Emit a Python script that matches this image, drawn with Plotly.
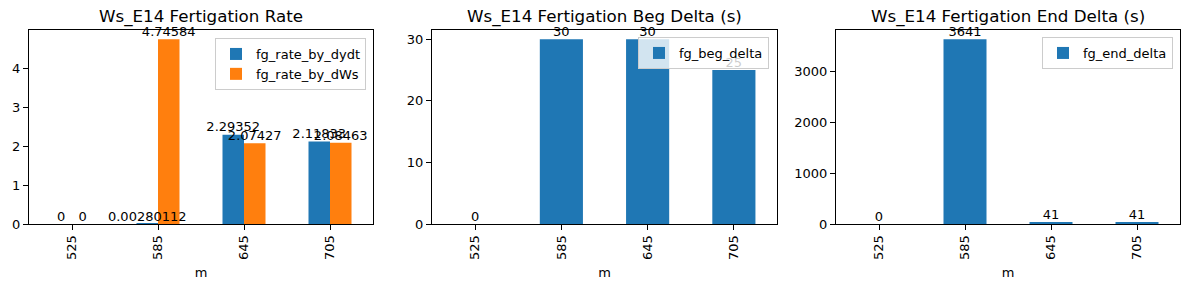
import plotly.graph_objects as go

categories = ["525", "585", "645", "705"]
fg_rate_by_dydt = [0, 0.00280112, 2.29352, 2.11833]
fg_rate_by_dWs = [0, 4.74584, 2.07427, 2.08463]
fg_beg_delta = [0, 30, 30, 25]
fg_end_delta = [0, 3641, 41, 41]

dydt_labels = ["0", "0.00280112", "2.29352", "2.11833"]
dWs_labels = ["0", "4.74584", "2.07427", "2.08463"]
beg_labels = ["0", "30", "30", "25"]
end_labels = ["0", "3641", "41", "41"]

titles = ["Ws_E14 Fertigation Rate", "Ws_E14 Fertigation Beg Delta (s)", "Ws_E14 Fertigation End Delta (s)"]

BLUE = "#1f77b4"
ORANGE = "#ff7f0e"
FONT = "DejaVu Sans"
W, H = 1189, 290

fig = go.Figure()

def bar(name, y, color, xa, ya, legend, grp):
    return go.Bar(
        x=categories, y=y, name=name, marker=dict(color=color, line=dict(width=0)),
        xaxis=xa, yaxis=ya, legend=legend, offsetgroup=grp, alignmentgroup=xa,
    )

def labels(y, text, xa, ya, grp):
    return go.Scatter(
        x=categories, y=y, text=text, mode="text", textposition="top center",
        textfont=dict(size=13, color="black", family=FONT), cliponaxis=False,
        xaxis=xa, yaxis=ya, showlegend=False, hoverinfo="skip",
        offsetgroup=grp, alignmentgroup=xa,
    )

fig.add_trace(bar("fg_rate_by_dydt", fg_rate_by_dydt, BLUE, "x", "y", "legend", "a"))
fig.add_trace(bar("fg_rate_by_dWs", fg_rate_by_dWs, ORANGE, "x", "y", "legend", "b"))
fig.add_trace(bar("fg_beg_delta", fg_beg_delta, BLUE, "x2", "y2", "legend2", "a"))
fig.add_trace(bar("fg_end_delta", fg_end_delta, BLUE, "x3", "y3", "legend3", "a"))
fig.add_trace(labels(fg_rate_by_dydt, dydt_labels, "x", "y", "a"))
fig.add_trace(labels(fg_rate_by_dWs, dWs_labels, "x", "y", "b"))
fig.add_trace(labels(fg_beg_delta, beg_labels, "x2", "y2", "a"))
fig.add_trace(labels(fg_end_delta, end_labels, "x3", "y3", "a"))

xdoms = [(29, 373), (432, 777), (836, 1180)]
ytop, ybot = 30, 224
ydom = [1 - ybot / H, 1 - ytop / H]
yranges = [[0, max(fg_rate_by_dWs) * 1.05], [0, max(fg_beg_delta) * 1.05], [0, max(fg_end_delta) * 1.05]]
dticks = [1, 10, 1000]

axis_common = dict(
    showline=True, mirror=True, linecolor="black", linewidth=1,
    ticks="outside", ticklen=5, tickcolor="black", tickwidth=1,
    showgrid=False, zeroline=False, automargin=False,
    tickfont=dict(size=13, color="black", family=FONT),
)

layout = dict(
    width=W, height=H, margin=dict(l=0, r=0, t=0, b=0, autoexpand=False),
    paper_bgcolor="white", plot_bgcolor="white",
    barmode="group", bargap=0.5, bargroupgap=0,
    scattermode="group", scattergap=0.5,
    font=dict(family=FONT, size=13, color="black"),
    showlegend=True,
)

for i in range(3):
    sfx = "" if i == 0 else str(i + 1)
    layout["xaxis" + sfx] = dict(
        axis_common, domain=[xdoms[i][0] / W, xdoms[i][1] / W], anchor="y" + sfx,
        type="category", range=[-0.5, 3.5], tickangle=-90,
        title=dict(text="m", font=dict(size=13, family=FONT, color="black"), standoff=8),
    )
    layout["yaxis" + sfx] = dict(
        axis_common, domain=ydom, anchor="x" + sfx, range=yranges[i], dtick=dticks[i],
    )

legend_common = dict(
    bgcolor="rgba(255,255,255,0.8)", bordercolor="#cccccc", borderwidth=1,
    font=dict(size=13, family=FONT, color="black"), xanchor="right", yanchor="top",
    xref="paper", yref="paper", itemwidth=30,
)
layout["legend"] = dict(legend_common, x=366 / W, y=1 - 38 / H)
layout["legend2"] = dict(legend_common, x=769 / W, y=1 - 37 / H)
layout["legend3"] = dict(legend_common, x=1173 / W, y=1 - 37 / H)

annotations = []
for i in range(3):
    cx = (xdoms[i][0] + xdoms[i][1]) / 2 / W
    annotations.append(dict(
        text=titles[i], x=cx, y=1 - 16 / H, xref="paper", yref="paper",
        xanchor="center", yanchor="middle", showarrow=False,
        font=dict(size=16.7, family=FONT, color="black"),
    ))
layout["annotations"] = annotations

fig.update_layout(**layout)
fig.write_html("out.html")
